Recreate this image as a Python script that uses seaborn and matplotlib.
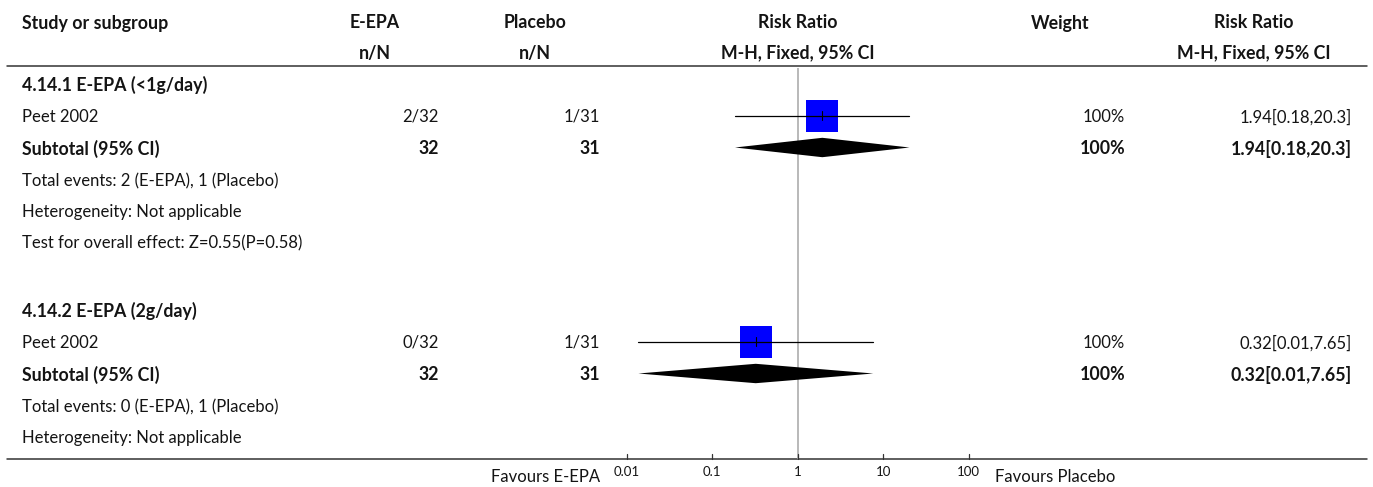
import numpy as np
import pandas as pd
import matplotlib
matplotlib.use("Agg")
import matplotlib.pyplot as plt
import seaborn as sns

# data
groups = ["4.14.1 E-EPA (<1g/day)", "4.14.2 E-EPA (2g/day)"]
studies = ["Peet 2002", "Peet 2002"]
epa_events = [2, 0]
epa_total = [32, 32]
pla_events = [1, 1]
pla_total = [31, 31]
rr = [1.94, 0.323]
ci_low = [0.185, 0.0137]
ci_high = [20.3, 7.65]
weights = ["100%", "100%"]
rr_labels = ["1.94[0.18,20.3]", "0.32[0.01,7.65]"]
total_events = ["Total events: 2 (E-EPA), 1 (Placebo)", "Total events: 0 (E-EPA), 1 (Placebo)"]
heterogeneity = ["Heterogeneity: Not applicable", "Heterogeneity: Not applicable"]
overall_test = ["Test for overall effect: Z=0.55(P=0.58)", None]
tick_values = [0.01, 0.1, 1, 10, 100]
tick_labels = ["0.01", "0.1", "1", "10", "100"]

W, H = 1373, 487
sns.set_theme(style="white")
plt.rcParams["font.family"] = ["Lato", "DejaVu Sans"]
FS = 12
FSB = 12.8
TXT = "#141414"

fig = plt.figure(figsize=(W / 100, H / 100), dpi=100)
ax = fig.add_axes([0, 0, 1, 1])
ax.set_xlim(0, W)
ax.set_ylim(H, 0)
ax.axis("off")

# column layout in pixels
x_left = 22
c_epa, r_epa = 375, 439
c_pla, r_pla = 535, 600
c_forest = 798
c_w, r_w = 1060, 1125
c_rr, r_rr = 1254, 1352
y_head1, y_head2, y_line = 23, 53, 66
y_bottom = 459
x0_forest, x1_forest = 626.7, 968.7

def t(x, y, s, ha="left", bold=False, size=None):
    if size is None:
        size = FSB if bold else FS
    ax.text(x, y, s, ha=ha, va="center", fontsize=size, color=TXT,
            fontweight="bold" if bold else "normal")

# header
t(x_left, y_head1, "Study or subgroup", bold=True)
t(c_epa, y_head1, "E-EPA", ha="center", bold=True)
t(c_epa, y_head2, "n/N", ha="center", bold=True)
t(c_pla, y_head1, "Placebo", ha="center", bold=True)
t(c_pla, y_head2, "n/N", ha="center", bold=True)
t(c_forest, y_head1, "Risk Ratio", ha="center", bold=True)
t(c_forest, y_head2, "M-H, Fixed, 95% CI", ha="center", bold=True)
t(c_w, y_head1, "Weight", ha="center", bold=True)
t(c_rr, y_head1, "Risk Ratio", ha="center", bold=True)
t(c_rr, y_head2, "M-H, Fixed, 95% CI", ha="center", bold=True)
ax.plot([7, 1367], [y_line, y_line], color="#333333", lw=1.1)
ax.plot([7, 1367], [y_bottom, y_bottom], color="#333333", lw=1.1)

# forest axes sharing the pixel rows of the table
fax = fig.add_axes([x0_forest / W, 1 - y_bottom / H, (x1_forest - x0_forest) / W, (y_bottom - y_line - 2) / H])
fax.set_xscale("log")
fax.set_xlim(0.01, 100)
fax.set_ylim(y_bottom, y_line + 2)
fax.patch.set_alpha(0)
for side in ["top", "left", "right", "bottom"]:
    fax.spines[side].set_visible(False)
fax.axvline(1, color="#a6a6a6", lw=1.1, zorder=1)

group_starts = [85, 311]
step = 32
study_rows = []
for i, g in enumerate(groups):
    y = group_starts[i]
    t(x_left, y, g, bold=True)
    ys = y + step
    study_rows.append(ys)
    t(x_left, ys, studies[i])
    t(r_epa, ys, f"{epa_events[i]}/{epa_total[i]}", ha="right")
    t(r_pla, ys, f"{pla_events[i]}/{pla_total[i]}", ha="right")
    t(r_w, ys, weights[i], ha="right")
    t(r_rr, ys, rr_labels[i], ha="right")
    ysub = ys + step
    t(x_left, ysub, "Subtotal (95% CI)", bold=True)
    t(r_epa, ysub, str(epa_total[i]), ha="right", bold=True)
    t(r_pla, ysub, str(pla_total[i]), ha="right", bold=True)
    t(r_w, ysub, weights[i], ha="right", bold=True)
    t(r_rr, ysub, rr_labels[i], ha="right", bold=True)
    t(x_left, ysub + step, total_events[i])
    t(x_left, ysub + 2 * step - 1, heterogeneity[i])
    if overall_test[i]:
        t(x_left, ysub + 3 * step - 2, overall_test[i])
    # CI line and point tick, drawn over the square
    fax.plot([ci_low[i], ci_high[i]], [ys - 1, ys - 1], color="black", lw=0.9, zorder=4)
    fax.plot([rr[i], rr[i]], [ys - 5.5, ys + 3.5], color="black", lw=0.8, zorder=4)
    # subtotal diamond
    yd = ysub - 1.5
    fax.fill([ci_low[i], rr[i], ci_high[i], rr[i]], [yd, yd - 9.7, yd, yd + 9.7],
             color="black", lw=0, zorder=2)

df = pd.DataFrame({"rr": rr, "y": [y - 1 for y in study_rows]})
sns.scatterplot(data=df, x="rr", y="y", marker="s", s=500, color="#0000ff",
                linewidth=0, ax=fax, zorder=3)
fax.set_xlabel("")
fax.set_ylabel("")
fax.set_yticks([])

# bottom scale
for v, lab in zip(tick_values, tick_labels):
    fax.plot([v, v], [y_bottom, y_bottom - 5], color="#333333", lw=0.9, clip_on=False)
    fax.text(v, 472, lab, ha="center", va="center", fontsize=9.5, color=TXT)
fax.set_xticks([])
fax.minorticks_off()
t(600, 477, "Favours E-EPA", ha="right")
t(995, 477, "Favours Placebo")

fig.savefig("out.png", dpi=100)
